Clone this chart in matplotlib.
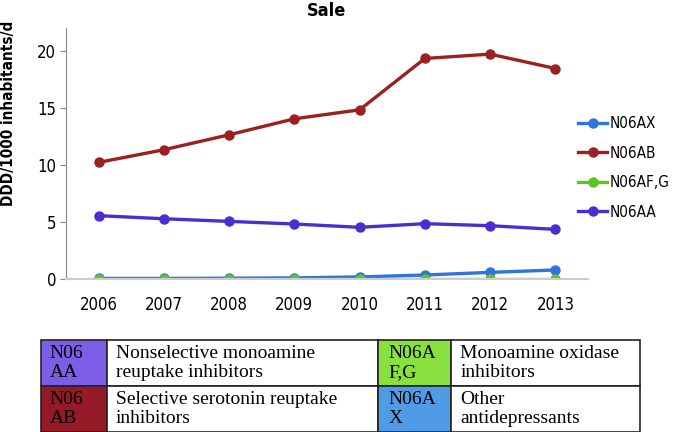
import matplotlib
matplotlib.use('Agg')
import matplotlib.pyplot as plt
from matplotlib import font_manager

years = [2006, 2007, 2008, 2009, 2010, 2011, 2012, 2013]
n06ax = [0.05, 0.05, 0.07, 0.10, 0.18, 0.35, 0.58, 0.79]
n06ab = [10.22, 11.33, 12.64, 14.04, 14.83, 19.33, 19.71, 18.45]
n06afg = [0.02, 0.02, 0.02, 0.02, 0.02, 0.02, 0.02, 0.02]
n06aa = [5.55, 5.28, 5.05, 4.82, 4.53, 4.85, 4.67, 4.35]

series_names = ['N06AX', 'N06AB', 'N06AF,G', 'N06AA']
series_colors = ['#2f73e0', '#9b2020', '#5cc61e', '#4a2ed2']

table_codes = [['N06\nAA', 'N06A\nF,G'], ['N06\nAB', 'N06A\nX']]
table_desc = [['Nonselective monoamine\nreuptake inhibitors', 'Monoamine oxidase\ninhibitors'],
              ['Selective serotonin reuptake\ninhibitors', 'Other\nantidepressants']]
table_colors = [['#7b5de6', '#89e03e'], ['#951a28', '#4f9be6']]

# look for a condensed sans face (closest to Calibri)
fonts = font_manager.fontManager.ttflist
narrow = None
for f in fonts:
    if f.stretch in ('condensed', 'semi-condensed') or 'Condensed' in f.fname or 'Narrow' in f.name:
        if f.style == 'normal' and f.weight in (400, 'normal', 'regular'):
            narrow = font_manager.FontProperties(fname=f.fname)
            break
narrow_bold = None
for f in fonts:
    if (f.stretch in ('condensed', 'semi-condensed') or 'Condensed' in f.fname or 'Narrow' in f.name) \
            and f.style == 'normal' and f.weight in (700, 'bold'):
        narrow_bold = font_manager.FontProperties(fname=f.fname)
        break


def fp(size, bold=False):
    base = narrow_bold if bold else narrow
    if base is None:
        return font_manager.FontProperties(family='DejaVu Sans', size=size,
                                           weight='bold' if bold else 'normal')
    p = base.copy()
    p.set_size(size)
    return p


fig = plt.figure(figsize=(6.74, 4.32), dpi=100)
ax = fig.add_axes([66/674, 1 - 279/432, (588 - 66)/674, (279 - 28)/432])

for vals, name, c in zip([n06ax, n06ab, n06afg, n06aa], series_names, series_colors):
    ax.plot(years, vals, color=c, lw=2.4, marker='o', ms=6.5, label=name)

ax.set_xlim(2005.5, 2013.5)
ax.set_ylim(0, 22)
ax.set_yticks([0, 5, 10, 15, 20])
ax.set_xticks(years)
for lab in ax.get_xticklabels() + ax.get_yticklabels():
    lab.set_fontproperties(fp(12))
ax.tick_params(axis='x', length=0, pad=12)
ax.tick_params(axis='y', length=4, color='#888888', pad=3)
for s in ['top', 'right']:
    ax.spines[s].set_visible(False)
ax.spines['left'].set_color('#888888')
ax.spines['bottom'].set_color('#cccccc')
ax.spines['bottom'].set_linewidth(1.5)

ax.set_title('Sale', fontproperties=fp(13, bold=True), pad=9)
fig.text(9/674, 1 - 113/432, 'DDD/1000 inhabitants/d', rotation=90,
         fontproperties=fp(11, bold=True), ha='center', va='center')

leg = fig.legend(loc='upper left', bbox_to_anchor=(572/674, 1 - 110/432), frameon=False,
                 prop=fp(11), handlelength=1.9, handletextpad=0.15,
                 labelspacing=0.95, borderaxespad=0)

# table of codes
tax = fig.add_axes([41/674, 0, (640 - 41)/674, (432 - 340)/432])
tax.axis('off')
cells = []
colours = []
for r in range(2):
    row = []
    crow = []
    for k in range(2):
        row += [table_codes[r][k], table_desc[r][k]]
        crow += [table_colors[r][k], 'white']
    cells.append(row)
    colours.append(crow)
widths = [66, 271, 73, 189]
pads = [0.13, 0.033, 0.14, 0.05]
tot = sum(widths)
tbl = tax.table(cellText=cells, cellColours=colours, cellLoc='left',
                colWidths=[w / tot for w in widths], bbox=[0, 0, 1, 1])
tbl.auto_set_font_size(False)
for (r, c), cell in tbl.get_celld().items():
    cell.set_linewidth(1.2)
    cell.set_edgecolor('#222222')
    cell.PAD = pads[c]
    t = cell.get_text()
    t.set_fontfamily('Liberation Serif')
    t.set_fontsize(14)
    t.set_linespacing(1.2)

fig.savefig('out.png', dpi=100)
